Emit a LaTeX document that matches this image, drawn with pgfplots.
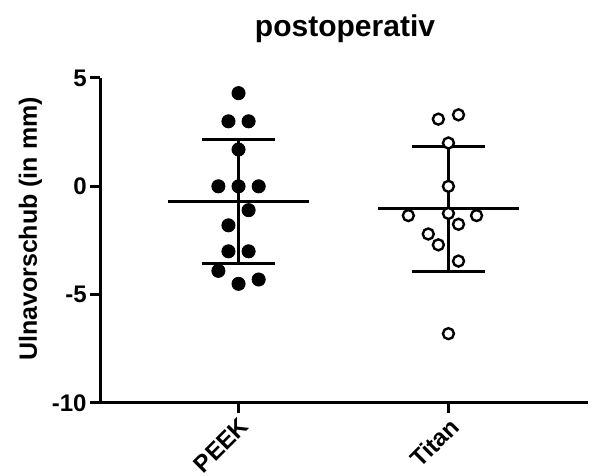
\documentclass[border=0pt]{standalone}
\usepackage{pgfplots}
\pgfplotsset{compat=1.18}
\usepackage{fontspec}
\setmainfont{Liberation Sans}
\begin{document}
\begin{tikzpicture}
\begin{axis}[
  at={(0,0)}, anchor=south west,
  scale only axis,
  width=244pt, height=162.5pt,
  xmin=0.34, xmax=2.665, ymin=-10, ymax=5,
  axis x line=bottom, axis y line=left,
  axis line style={-, line width=1.5pt},
  xtick={1,2}, xticklabels={PEEK,Titan},
  ytick={-10,-5,0,5}, yticklabels={-10,-5,0,5},
  tick align=outside,
  major tick length=5pt,
  tick style={line width=1.5pt, black},
  minor tick num=0,
  xticklabel style={font=\bfseries\fontsize{12}{14}\selectfont, rotate=45, anchor=north east, inner sep=1pt},
  yticklabel style={font=\bfseries\fontsize{12}{14}\selectfont, inner sep=1.5pt},
  clip=false,
]
% PEEK points
\addplot[only marks, mark=*, mark size=3.3pt, black] coordinates {
(1.000,4.3) (0.952,3.0) (1.048,3.0) (1.000,1.7)
(0.904,0) (1.000,0) (1.096,0)
(1.048,-1.1) (0.952,-1.8)
(0.952,-3.0) (1.048,-3.0)
(0.904,-3.9) (1.000,-4.5) (1.096,-4.3)
};
% PEEK mean and SD
\addplot[black, line width=1.5pt] coordinates {(0.665,-0.68) (1.335,-0.68)};
\addplot[black, line width=1.5pt] coordinates {(1,2.17) (1,-3.56)};
\addplot[black, line width=1.5pt] coordinates {(0.828,2.17) (1.172,2.17)};
\addplot[black, line width=1.5pt] coordinates {(0.828,-3.56) (1.172,-3.56)};
% Titan mean and SD
\addplot[black, line width=1.5pt] coordinates {(1.665,-1.03) (2.335,-1.03)};
\addplot[black, line width=1.5pt] coordinates {(2,1.84) (2,-3.92)};
\addplot[black, line width=1.5pt] coordinates {(1.828,1.84) (2.172,1.84)};
\addplot[black, line width=1.5pt] coordinates {(1.828,-3.92) (2.172,-3.92)};
% Titan points
\addplot[only marks, mark=*, mark size=2.75pt, mark options={fill=white, draw=black, line width=1.2pt}] coordinates {
(1.952,3.1) (2.048,3.3) (2.000,2.0) (2.000,0)
(1.809,-1.35) (2.000,-1.25) (2.134,-1.35)
(2.048,-1.75) (1.904,-2.2) (1.952,-2.7)
(2.048,-3.45) (2.000,-6.8)
};
\end{axis}
\node[font=\bfseries\fontsize{15}{18}\selectfont, anchor=base] at (122.5pt,183pt) {postoperativ};
\node[font=\bfseries\fontsize{12.5}{15}\selectfont, rotate=90, anchor=base] at (-31.5pt,87pt) {Ulnavorschub (in mm)};
\pgfresetboundingbox
\path (-50pt,-36pt) rectangle (246pt,201.5pt);
\end{tikzpicture}
\end{document}
